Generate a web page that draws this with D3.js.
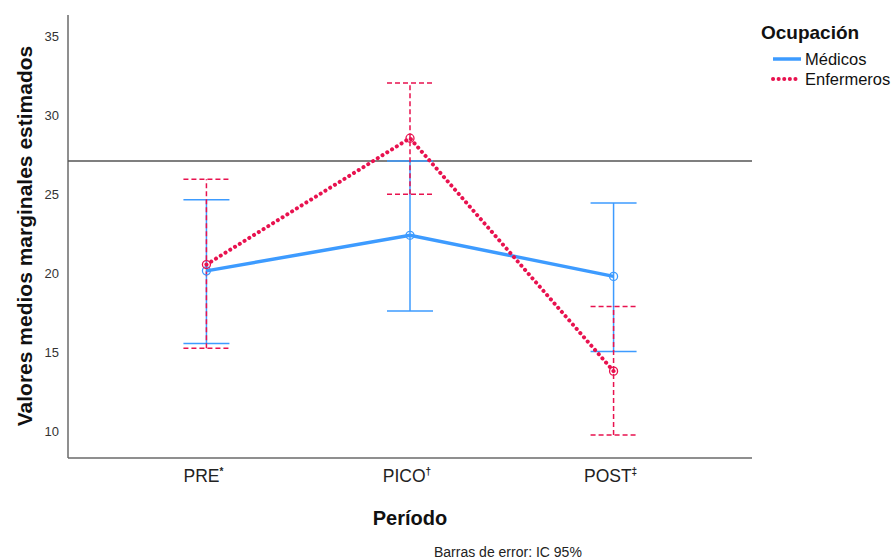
<!DOCTYPE html>
<html>
<head>
<meta charset="utf-8">
<script src="https://cdn.jsdelivr.net/npm/d3@7"></script>
<style>
  body { margin: 0; background: #fff; }
  text { font-family: "Liberation Sans", Arial, sans-serif; }
</style>
</head>
<body>
<svg id="chart" width="894" height="559"></svg>
<script>
// data
const periods = ["PRE", "PICO", "POST"];
const periodMarks = ["*", "†", "‡"];
const groups = ["Médicos", "Enfermeros"];
const medicosMean = [20.2, 22.45, 19.85];
const medicosLow = [15.6, 17.65, 15.1];
const medicosHigh = [24.7, 27.15, 24.5];
const enfermerosMean = [20.6, 28.6, 13.85];
const enfermerosLow = [15.3, 25.05, 9.8];
const enfermerosHigh = [26.0, 32.1, 17.95];
const refLine = 27.15;
const yTicks = [10, 15, 20, 25, 30, 35];

const colors = { "Médicos": "#3d9bff", "Enfermeros": "#e8124f" };

const svg = d3.select("#chart");
const plotL = 68, plotR = 752, plotT = 15, plotB = 458;

const x = d3.scalePoint().domain(periods).range([plotL, plotR]).padding(0.68);
const y = d3.scaleLinear().domain([8.35, 36.4]).range([plotB, plotT]);

// axes
svg.append("line").attr("x1", plotL).attr("x2", plotL).attr("y1", plotT).attr("y2", plotB)
    .attr("stroke", "#6a6a6a").attr("stroke-width", 1.5);
svg.append("line").attr("x1", plotL).attr("x2", plotR).attr("y1", plotB).attr("y2", plotB)
    .attr("stroke", "#6a6a6a").attr("stroke-width", 1.5);

svg.selectAll(".ytick").data(yTicks).join("text")
    .attr("x", plotL - 9).attr("y", d => y(d) + 4)
    .attr("text-anchor", "end").attr("font-size", 13).attr("fill", "#333")
    .text(d => d);

const xt = svg.selectAll(".xtick").data(periods).join("text")
    .attr("x", d => x(d) - 3).attr("y", 482)
    .attr("text-anchor", "middle").attr("font-size", 17.5).attr("fill", "#222");
xt.append("tspan").text(d => d);
xt.append("tspan").attr("font-size", 10).attr("font-weight", "bold").attr("dy", -7).text((d, i) => periodMarks[i]);

svg.append("text").attr("x", 410).attr("y", 525).attr("text-anchor", "middle")
    .attr("font-size", 20).attr("font-weight", "bold").attr("fill", "#111").text("Período");

svg.append("text").attr("transform", "translate(32,236) rotate(-90)")
    .attr("text-anchor", "middle").attr("font-size", 21).attr("font-weight", "bold")
    .attr("fill", "#111").text("Valores medios marginales estimados");

svg.append("text").attr("x", 434).attr("y", 557).attr("font-size", 14)
    .attr("fill", "#222").text("Barras de error: IC 95%");

// reference line
svg.append("line").attr("x1", plotL).attr("x2", plotR)
    .attr("y1", y(refLine)).attr("y2", y(refLine))
    .attr("stroke", "#555").attr("stroke-width", 1.5);

const series = [
  { name: "Médicos", mean: medicosMean, low: medicosLow, high: medicosHigh, dash: null, lineDash: null },
  { name: "Enfermeros", mean: enfermerosMean, low: enfermerosLow, high: enfermerosHigh, dash: "5,3", lineDash: "0.1,5.5" }
];

const capW = 23;
series.forEach(s => {
  const c = colors[s.name];
  const g = svg.append("g");
  periods.forEach((p, i) => {
    const px = x(p);
    g.append("line").attr("x1", px).attr("x2", px)
        .attr("y1", y(s.low[i])).attr("y2", y(s.high[i]))
        .attr("stroke", c).attr("stroke-width", 1.5).attr("stroke-dasharray", s.dash);
    [s.low[i], s.high[i]].forEach(v => {
      g.append("line").attr("x1", px - capW).attr("x2", px + capW)
          .attr("y1", y(v)).attr("y2", y(v))
          .attr("stroke", c).attr("stroke-width", 1.5).attr("stroke-dasharray", s.dash);
    });
  });
});

const line = d3.line().x((d, i) => x(periods[i])).y(d => y(d));
series.forEach(s => {
  const c = colors[s.name];
  svg.append("path").datum(s.mean).attr("d", line)
      .attr("fill", "none").attr("stroke", c)
      .attr("stroke-width", s.lineDash ? 4 : 3.5)
      .attr("stroke-linecap", s.lineDash ? "round" : "butt")
      .attr("stroke-dasharray", s.lineDash);
  svg.selectAll(null).data(s.mean).join("circle")
      .attr("cx", (d, i) => x(periods[i])).attr("cy", d => y(d)).attr("r", 4)
      .attr("fill", "none").attr("stroke", c).attr("stroke-width", 1.3);
});

// legend
const lg = svg.append("g");
lg.append("text").attr("x", 761).attr("y", 39).attr("font-size", 19)
    .attr("font-weight", "bold").attr("fill", "#111").text("Ocupación");
series.forEach((s, i) => {
  const ly = 59 + i * 20;
  lg.append("line").attr("x1", 773).attr("x2", 801).attr("y1", ly).attr("y2", ly)
      .attr("stroke", colors[s.name]).attr("stroke-width", s.lineDash ? 4 : 3.5)
      .attr("stroke-linecap", s.lineDash ? "round" : "butt")
      .attr("stroke-dasharray", s.lineDash);
  lg.append("text").attr("x", 805).attr("y", ly + 6).attr("font-size", 16.5)
      .attr("fill", "#111").text(s.name);
});
</script>
</body>
</html>
